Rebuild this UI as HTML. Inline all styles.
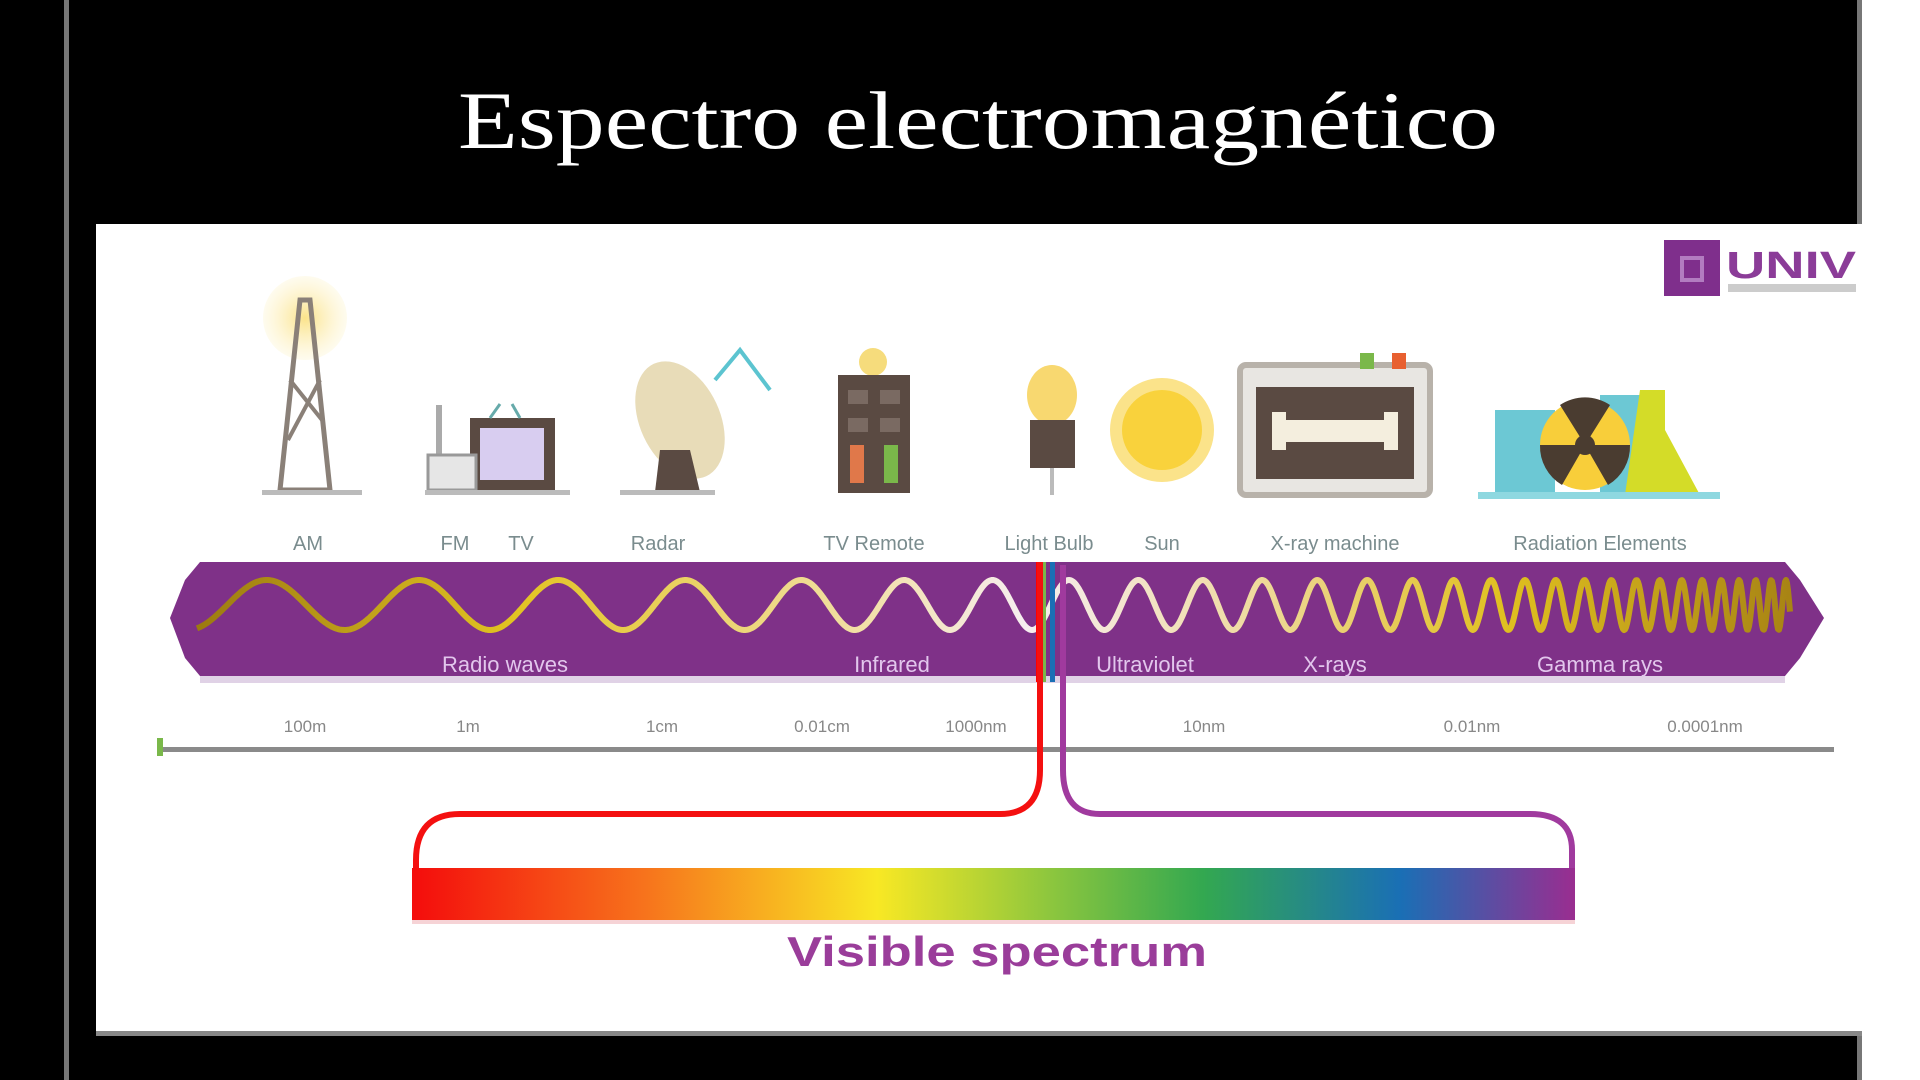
<!DOCTYPE html>
<html><head><meta charset="utf-8"><style>
html,body{margin:0;padding:0;background:#fff;}
svg{display:block;}
text{font-family:"Liberation Sans",sans-serif;}
</style></head><body>
<svg id="s" width="1920" height="1080" viewBox="0 0 1920 1080" xmlns="http://www.w3.org/2000/svg">
<defs>
<linearGradient id="vis" x1="0" x2="1" y1="0" y2="0">
<stop offset="0" stop-color="#f40c0c"/><stop offset="0.2" stop-color="#f7731c"/><stop offset="0.4" stop-color="#f8e824"/><stop offset="0.55" stop-color="#8cc63e"/><stop offset="0.68" stop-color="#33a850"/><stop offset="0.85" stop-color="#1a6fb5"/><stop offset="1" stop-color="#9a2d90"/>
</linearGradient>
<linearGradient id="wv" gradientUnits="userSpaceOnUse" x1="197" x2="1790" y1="0" y2="0">
<stop offset="0" stop-color="#9c7a10"/><stop offset="0.2" stop-color="#e2c422"/><stop offset="0.42" stop-color="#f2e0a8"/><stop offset="0.52" stop-color="#f6eef0"/><stop offset="0.65" stop-color="#f0dca8"/><stop offset="0.82" stop-color="#e0c020"/><stop offset="1" stop-color="#a88414"/>
</linearGradient>
<radialGradient id="glow"><stop offset="0" stop-color="#fbe38a"/><stop offset="1" stop-color="#fdf3c8" stop-opacity="0.3"/></radialGradient>
</defs>
<rect width="1920" height="1080" fill="#fff"/>
<rect x="0" y="0" width="1862" height="1080" fill="#000"/>
<rect x="64" y="0" width="5" height="1080" fill="#777"/>
<rect x="1857" y="0" width="5" height="1080" fill="#777"/>
<text x="978" y="148" text-anchor="middle" fill="#fff" font-size="82" style="font-family:'Liberation Serif',serif" textLength="1040" lengthAdjust="spacingAndGlyphs">Espectro electromagnético</text>
<rect x="96" y="224" width="1766" height="808" fill="#fff"/>
<rect x="96" y="1031" width="1766" height="5" fill="#888"/>

<!-- logo -->
<rect x="1664" y="240" width="56" height="56" fill="#7f2f8c"/>
<rect x="1682" y="258" width="20" height="22" fill="none" stroke="#b27cc0" stroke-width="4"/>
<text x="1726" y="278" fill="#8b3c98" font-size="38" font-weight="bold" textLength="130" lengthAdjust="spacingAndGlyphs">UNIV</text>
<rect x="1728" y="284" width="128" height="8" fill="#ccc"/>

<!-- icons -->
<circle cx="305" cy="318" r="42" fill="url(#glow)"/>
<polygon points="300,300 310,300 330,490 280,490" fill="none" stroke="#8a8078" stroke-width="5"/>
<line x1="290" y1="380" x2="322" y2="420" stroke="#8a8078" stroke-width="4"/><line x1="320" y1="380" x2="288" y2="440" stroke="#8a8078" stroke-width="4"/>
<rect x="262" y="490" width="100" height="5" fill="#bbb"/>
<rect x="470" y="418" width="85" height="72" fill="#5a4a42"/><rect x="480" y="428" width="64" height="52" fill="#d8cdf0"/>
<line x1="490" y1="418" x2="500" y2="404" stroke="#6aa" stroke-width="3"/><line x1="520" y1="418" x2="512" y2="404" stroke="#6aa" stroke-width="3"/>
<rect x="436" y="405" width="6" height="50" fill="#aaa"/><rect x="428" y="455" width="48" height="35" fill="#e6e6e6" stroke="#999" stroke-width="3"/>
<rect x="425" y="490" width="145" height="5" fill="#bbb"/>
<ellipse cx="680" cy="420" rx="40" ry="62" fill="#e8dcb8" transform="rotate(-25 680 420)"/>
<polygon points="660,450 690,450 700,492 655,492" fill="#5a4a42"/>
<path d="M715 380 L740 350 L770 390" fill="none" stroke="#5cc4d0" stroke-width="4"/>
<rect x="620" y="490" width="95" height="5" fill="#bbb"/>
<circle cx="873" cy="362" r="14" fill="#f6dc7c"/>
<rect x="838" y="375" width="72" height="118" fill="#5a4a42"/>
<rect x="848" y="390" width="20" height="14" fill="#7a6a62"/><rect x="880" y="390" width="20" height="14" fill="#7a6a62"/>
<rect x="848" y="418" width="20" height="14" fill="#7a6a62"/><rect x="880" y="418" width="20" height="14" fill="#7a6a62"/>
<rect x="850" y="445" width="14" height="38" fill="#e0784a"/><rect x="884" y="445" width="14" height="38" fill="#7ab84a"/>
<ellipse cx="1052" cy="395" rx="25" ry="30" fill="#f8d870"/>
<rect x="1030" y="420" width="45" height="48" fill="#5a4a42"/><line x1="1052" y1="468" x2="1052" y2="495" stroke="#bbb" stroke-width="4"/>
<circle cx="1162" cy="430" r="52" fill="#fbe38a"/><circle cx="1162" cy="430" r="40" fill="#f9d23c"/>
<rect x="1240" y="365" width="190" height="130" rx="6" fill="#e8e6e2" stroke="#b8b2aa" stroke-width="6"/>
<rect x="1256" y="387" width="158" height="92" fill="#5a4a42"/>
<rect x="1280" y="420" width="110" height="22" fill="#f4eede"/><rect x="1272" y="412" width="14" height="38" fill="#f4eede"/><rect x="1384" y="412" width="14" height="38" fill="#f4eede"/>
<rect x="1360" y="353" width="14" height="16" fill="#7ab84a"/><rect x="1392" y="353" width="14" height="16" fill="#e86030"/>
<rect x="1495" y="410" width="60" height="85" fill="#6cc8d4"/><rect x="1600" y="395" width="40" height="100" fill="#6cc8d4"/>
<polygon points="1640,390 1665,390 1665,430 1700,495 1625,495" fill="#d4dc28"/>
<circle cx="1585" cy="445" r="45" fill="#f8ce3a"/><circle cx="1585" cy="445" r="10" fill="#4a3c30"/>
<path d="M1585 445 L1560 405 A45 45 0 0 1 1610 405 Z M1585 445 L1630 445 A45 45 0 0 1 1608 485 Z M1585 445 L1562 485 A45 45 0 0 1 1540 445 Z" fill="#4a3c30"/>
<rect x="1478" y="492" width="242" height="7" fill="#8ed8e0"/>

<!-- icon labels -->
<g fill="#7a8c8e" font-size="20" text-anchor="middle">
<text x="308" y="550">AM</text><text x="455" y="550">FM</text><text x="521" y="550">TV</text><text x="658" y="550">Radar</text>
<text x="874" y="550">TV Remote</text><text x="1049" y="550">Light Bulb</text><text x="1162" y="550">Sun</text>
<text x="1335" y="550">X-ray machine</text><text x="1600" y="550">Radiation Elements</text>
</g>

<!-- band -->
<rect x="200" y="675" width="1585" height="8" fill="#e0d2e6"/>
<polygon points="200,562 1785,562 1800,580 1824,618 1800,658 1785,676 200,676 185,658 170,618 185,580" fill="#7f3188"/>
<path id="wave" d="" fill="none" stroke="url(#wv)" stroke-width="6" stroke-linejoin="round"/>
<g fill="#e2c6ec" font-size="22" text-anchor="middle">
<text x="505" y="672">Radio waves</text><text x="892" y="672">Infrared</text><text x="1145" y="672">Ultraviolet</text>
<text x="1335" y="672">X-rays</text><text x="1600" y="672">Gamma rays</text>
</g>

<!-- axis -->
<rect x="160" y="747" width="1674" height="5" fill="#8a8a8a"/>
<rect x="157" y="738" width="6" height="18" fill="#7ab84a"/>
<g fill="#888" font-size="17" text-anchor="middle">
<text x="305" y="732">100m</text><text x="468" y="732">1m</text><text x="662" y="732">1cm</text><text x="822" y="732">0.01cm</text>
<text x="976" y="732">1000nm</text><text x="1204" y="732">10nm</text><text x="1472" y="732">0.01nm</text><text x="1705" y="732">0.0001nm</text>
</g>

<!-- visible lines -->
<rect x="1036" y="562" width="6" height="120" fill="#f00"/><rect x="1042" y="562" width="4" height="120" fill="#7ab84a"/><rect x="1050" y="562" width="5" height="120" fill="#1a6fb5"/>
<path d="M1040 562 L1040 770 Q1040 814 1000 814 L460 814 Q416 814 416 860 L416 870" fill="none" stroke="#f41010" stroke-width="6"/>
<path d="M1063 565 L1063 770 Q1063 814 1100 814 L1530 814 Q1572 814 1572 850 L1572 870" fill="none" stroke="#a03a9e" stroke-width="6"/>
<rect x="412" y="868" width="1163" height="52" fill="url(#vis)"/>
<rect x="412" y="920" width="1163" height="4" fill="#f4c8cc" opacity="0.8"/>
<text x="997" y="966" text-anchor="middle" fill="#9a3d9a" font-size="42" font-weight="bold" textLength="420" lengthAdjust="spacingAndGlyphs">Visible spectrum</text>
</svg>
<script>
(function(){
var T=[[197,158],[283,158],[800,111],[1046,74],[1292,55],[1538,31],[1772,15],[1790,14]];
function per(x){for(var i=0;i<T.length-1;i++){if(x<=T[i+1][0]){var t=(x-T[i][0])/(T[i+1][0]-T[i][0]);return T[i][1]+t*(T[i+1][1]-T[i][1]);}}return 14;}
var x0=197,x1=1790,d="",ph=0;
for(var x=x0;x<=x1;x+=1){
if(x>x0)ph+=2*Math.PI/per(x);
var y=605-25*Math.sin(ph-1.2);
d+=(x==x0?"M":"L")+x+" "+y.toFixed(1);
}
document.getElementById("wave").setAttribute("d",d);
})();
</script>
</body></html>
